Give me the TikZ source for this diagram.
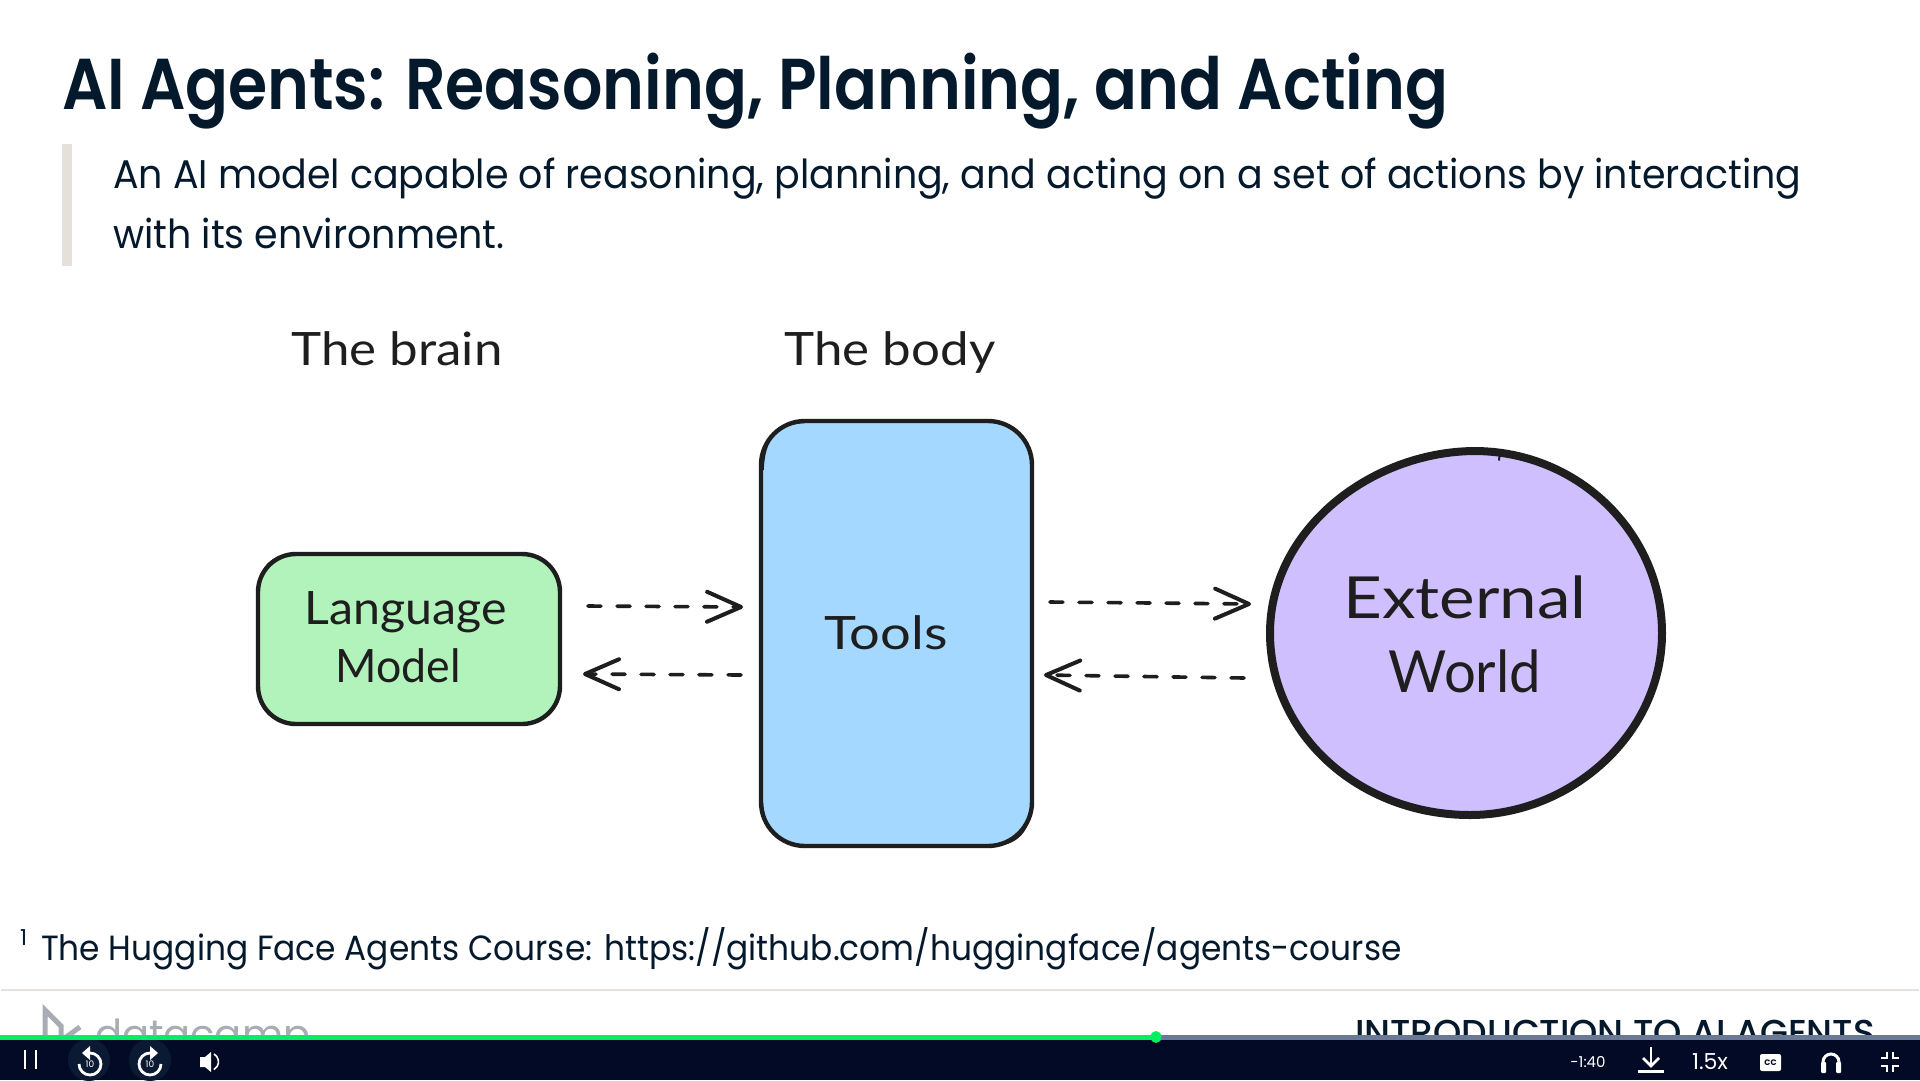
\documentclass[tikz,border=0pt]{standalone}
\usepackage{fontspec}
\usepackage{graphicx}
\usetikzlibrary{arrows.meta}
\setmainfont{Poppins}
\newfontfamily\titlefont{Poppins SemiBold}
\newfontfamily\mediumfont{Poppins Medium}
\newfontfamily\handfont{Lato}
\definecolor{ink}{HTML}{05192D}
\definecolor{sketch}{HTML}{1E1E1E}
\definecolor{greenfill}{HTML}{B2F2BB}
\definecolor{bluefill}{HTML}{A5D8FF}
\definecolor{violetfill}{HTML}{D0BFFF}
\definecolor{quotebar}{HTML}{E5E1DA}
\definecolor{playerbg}{HTML}{030A26}
\definecolor{progress}{HTML}{03EF62}
\definecolor{progressrest}{HTML}{6A7A96}
\definecolor{logogrey}{HTML}{A8ADB3}
\definecolor{glow}{HTML}{0B1A33}
\newcommand{\xs}[2]{\scalebox{#1}[1]{#2}}
\newcommand{\worldpath}{(1474,451) .. controls (1370,452) and (1270,530) .. (1270,633)
  .. controls (1270,735) and (1360,815) .. (1470,815)
  .. controls (1570,815) and (1662,735) .. (1662,633)
  .. controls (1662,535) and (1580,451) .. (1474,451) -- cycle}
\tikzset{
  every node/.style={inner sep=0pt,outer sep=0pt},
  slide/.style={anchor=base west,text=ink},
  hand/.style={anchor=base,text=sketch,font=\handfont\fontsize{#1}{#1}\selectfont},
  sketchbox/.style={draw=sketch,line width=4.4pt,rounded corners=38pt,anchor=center},
  sketchline/.style={draw=sketch,line width=1.6pt},
  conn/.style={draw=sketch,line width=3.6pt,line cap=round,dash pattern=on 13pt off 16pt,
    -{Straight Barb[length=34pt,width=30pt,line width=4pt,round]}},
  icon/.style={draw=white,line width=2.2pt},
  ui/.style={text=white,anchor=center}
}
\begin{document}
\begin{tikzpicture}[x=1pt,y=-1pt]
\useasboundingbox (0,0) rectangle (1920,1080);
\fill[white] (0,0) rectangle (1920,1080);

% slide text
\node[slide,font=\titlefont\fontsize{72}{72}\selectfont] (title) at (62,109) {\xs{0.88}{AI Agents: Reasoning, Planning, and Acting}};
\fill[quotebar] (62,144) rectangle (72,266);
\node[slide,font=\fontsize{40}{40}\selectfont] (sub1) at (113,188) {\xs{0.949}{An AI model capable of reasoning, planning, and acting on a set of actions by interacting}};
\node[slide,font=\fontsize{40}{40}\selectfont] (sub2) at (113,248) {\xs{0.949}{with its environment.}};

% diagram labels
\node[hand=46] (brain) at (397,365) {\xs{1.11}{The brain}};
\node[hand=46] (body) at (890,365) {\xs{1.11}{The body}};

% boxes
\node[sketchbox,fill=greenfill,minimum width=302pt,minimum height=170pt] (lm) at (409,639) {};
\node[sketchbox,fill=bluefill,minimum width=271pt,minimum height=425pt,rounded corners=44pt] (tools) at (896.5,633.5) {};
\draw[sketchline] (763,470) .. controls (764,440) and (775,423) .. (808,422) -- (990,421) .. controls (1018,423) and (1030,440) .. (1032,470);
\draw[sketchline] (1032,800) .. controls (1030,832) and (1018,845) .. (990,846) -- (808,847) .. controls (778,845) and (764,832) .. (762,800);
\draw[sketchline] (259,590) .. controls (260,566) and (272,555) .. (296,554) -- (522,553);
\draw[sketchline] (522,725) -- (296,724) .. controls (272,723) and (260,710) .. (258,690);

% external world
\coordinate (world) at (1466,633);
\draw[draw=sketch,line width=8pt,fill=violetfill] \worldpath;
\draw[draw=sketch,line width=2pt,line cap=round] (1500,452) -- (1499,460);

% node texts
\node[hand=46] (lang) at (406,624) {\xs{1.05}{Language}};
\node[hand=46] (model) at (398,682) {\xs{0.97}{Model}};
\node[hand=46] (toolstext) at (886,649) {\xs{1.18}{Tools}};
\node[hand=58] (ext) at (1465,618) {\xs{1.16}{External}};
\node[hand=58] (wld) at (1465,692) {\xs{0.97}{World}};

% connectors
\coordinate (a1s) at ([xshift=28pt]lm.east |- 0,606);
\coordinate (a1e) at ([xshift=-18pt]tools.west |- 0,607);
\coordinate (a2s) at ([xshift=-20pt]tools.west |- 0,675);
\coordinate (a2e) at ([xshift=23pt]lm.east |- 0,674);
\coordinate (a3s) at ([xshift=18pt]tools.east |- 0,602);
\coordinate (a3e) at (1251,604);
\coordinate (a4s) at (1244,678);
\coordinate (a4e) at ([xshift=12pt]tools.east |- 0,675);
\draw[conn] (a1s) -- (a1e);
\draw[conn] (a2s) -- (a2e);
\draw[conn] (a3s) -- (a3e);
\draw[conn] (a4s) -- (a4e);

% footnote
\node[slide,font=\fontsize{22}{22}\selectfont] (fnmark) at (20,945) {1};
\node[slide,font=\fontsize{35}{35}\selectfont] (fn) at (41,960) {\xs{0.938}{The Hugging Face Agents Course: https://github.com/huggingface/agents-course}};
\fill[quotebar] (1,989) rectangle (1919,991);

% slide footer (cut by the player)
\draw[logogrey,line width=5pt] (45,1040) -- (45,1010) -- (61,1026) -- (61,1040);
\draw[logogrey,line width=5pt] (62,1040) -- (80,1027);
\node[anchor=base west,text=logogrey,font=\fontsize{40}{40}\selectfont] (dc) at (95,1048) {datacamp};
\node[slide,font=\mediumfont\fontsize{36}{36}\selectfont] (course) at (1355,1045) {INTRODUCTION TO AI AGENTS};

% player
\fill[playerbg] (0,1040) rectangle (1920,1080);
\begin{scope}
  \clip (0,1040) rectangle (1920,1080);
  \fill[glow] (89,1060) circle (21);
  \fill[glow] (150,1060) circle (21);
\end{scope}
\fill[progress] (0,1035) rectangle (1156,1040);
\fill[progressrest] (1156,1035) rectangle (1920,1040);
\fill[progress] (1156,1037) ellipse (5.5 and 6);
\draw[icon] (25,1050) -- (25,1069);
\draw[icon] (36,1050) -- (36,1069);
\draw[icon,line width=2.8pt] (90,1053) arc (-90:180:11);
\fill[white] (90,1046) -- (82,1053) -- (90,1060) -- cycle;
\node[ui,font=\fontsize{9}{9}\selectfont] (back10) at (90,1064) {10};
\draw[icon,line width=2.8pt] (150,1053) arc (-90:-360:11);
\fill[white] (150,1046) -- (158,1053) -- (150,1060) -- cycle;
\node[ui,font=\fontsize{9}{9}\selectfont] (fwd10) at (150,1064) {10};
\fill[white] (200,1057) -- (205,1057) -- (211,1052) -- (211,1072) -- (205,1067) -- (200,1067) -- cycle;
\draw[icon,line width=1.6pt] (214,1054) arc (-60:60:9);
\node[ui,font=\fontsize{15}{15}\selectfont] (time) at (1588,1062) {-1:40};
\draw[icon,line width=2.6pt] (1651,1047) -- (1651,1066);
\draw[icon,line width=2.6pt] (1643,1058) -- (1651,1066) -- (1659,1058);
\fill[white] (1638,1070) rectangle (1664,1073);
\node[ui,font=\fontsize{22}{22}\selectfont] (speed) at (1710,1062) {1.5x};
\fill[white,rounded corners=2pt] (1760,1054) rectangle (1781,1071);
\node[text=playerbg,anchor=center,font=\bfseries\fontsize{8}{8}\selectfont] (cc) at (1770.5,1062.5) {CC};
\draw[icon,line width=3pt] (1823,1068) -- (1823,1062) arc (180:360:8) -- (1839,1068);
\fill[white,rounded corners=1pt] (1821,1062) rectangle (1826,1073);
\fill[white,rounded corners=1pt] (1836,1062) rectangle (1841,1073);
\draw[icon] (1881,1058) -- (1887,1058) -- (1887,1052);
\draw[icon] (1899,1058) -- (1893,1058) -- (1893,1052);
\draw[icon] (1881,1066) -- (1887,1066) -- (1887,1072);
\draw[icon] (1899,1066) -- (1893,1066) -- (1893,1072);
\end{tikzpicture}
\end{document}
